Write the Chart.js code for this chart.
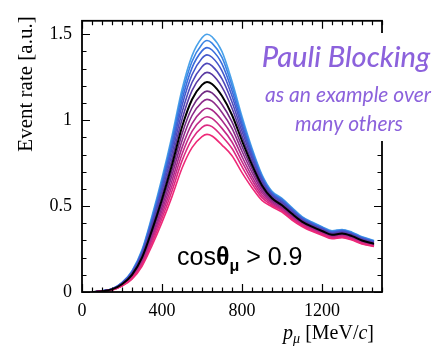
<!DOCTYPE html>
<html><head><meta charset="utf-8">
<script src="https://cdn.jsdelivr.net/npm/chart.js@4"></script>
<style>html,body{margin:0;padding:0;background:#fff;}canvas{display:block;}</style>
</head><body>
<canvas id="c" width="436" height="346"></canvas>
<script>
// muon momentum grid [MeV/c]
const pMu = [50,100,150,200,250,300,350,400,450,500,550,600,625,650,700,750,800,850,900,950,1000,1050,1100,1150,1200,1250,1300,1350,1400,1460];
// event rate curves, pink (strongest blocking) -> blue (weakest), black = central
const rate0  = [0,0.004,0.011,0.034,0.075,0.150,0.270,0.405,0.555,0.720,0.840,0.904,0.917,0.908,0.855,0.793,0.695,0.607,0.533,0.496,0.465,0.419,0.381,0.353,0.330,0.310,0.316,0.302,0.279,0.265];
const rate1  = [0,0.004,0.012,0.036,0.080,0.159,0.286,0.429,0.588,0.763,0.890,0.958,0.971,0.962,0.906,0.835,0.729,0.630,0.549,0.505,0.472,0.425,0.387,0.358,0.335,0.314,0.321,0.306,0.283,0.267];
const rate2  = [0,0.004,0.013,0.038,0.084,0.167,0.301,0.451,0.618,0.802,0.935,1.006,1.020,1.010,0.952,0.873,0.758,0.652,0.563,0.513,0.478,0.431,0.391,0.363,0.339,0.318,0.324,0.310,0.286,0.270];
const rate3  = [0,0.004,0.013,0.039,0.088,0.175,0.315,0.473,0.648,0.840,0.980,1.054,1.069,1.059,0.998,0.912,0.788,0.673,0.577,0.520,0.485,0.437,0.396,0.367,0.343,0.321,0.328,0.314,0.290,0.272];
const rate4  = [0,0.005,0.014,0.041,0.092,0.183,0.330,0.495,0.679,0.880,1.027,1.105,1.121,1.110,1.045,0.952,0.819,0.696,0.591,0.529,0.491,0.443,0.401,0.371,0.347,0.325,0.332,0.318,0.293,0.275];
const rate5  = [0,0.005,0.014,0.043,0.096,0.191,0.345,0.517,0.708,0.919,1.072,1.153,1.169,1.158,1.091,0.990,0.848,0.717,0.605,0.537,0.498,0.449,0.405,0.375,0.351,0.329,0.336,0.321,0.296,0.277];
const rate6  = [0,0.005,0.015,0.045,0.100,0.200,0.360,0.540,0.740,0.960,1.120,1.205,1.222,1.210,1.140,1.030,0.880,0.740,0.620,0.545,0.505,0.455,0.410,0.380,0.355,0.333,0.340,0.325,0.300,0.280];
const rate7  = [0,0.005,0.016,0.047,0.105,0.209,0.377,0.565,0.774,1.004,1.172,1.260,1.278,1.266,1.192,1.069,0.908,0.759,0.632,0.553,0.513,0.462,0.416,0.385,0.360,0.338,0.345,0.330,0.304,0.284];
const rate8  = [0,0.005,0.016,0.049,0.109,0.218,0.392,0.588,0.805,1.044,1.219,1.311,1.330,1.316,1.240,1.106,0.935,0.778,0.644,0.561,0.521,0.469,0.421,0.390,0.365,0.342,0.349,0.334,0.308,0.288];
const rate9  = [0,0.006,0.017,0.051,0.113,0.226,0.406,0.610,0.835,1.084,1.264,1.360,1.380,1.366,1.287,1.141,0.960,0.795,0.655,0.568,0.528,0.476,0.426,0.395,0.369,0.346,0.354,0.338,0.312,0.291];
const rate10 = [0,0.006,0.017,0.052,0.116,0.233,0.419,0.629,0.861,1.117,1.304,1.403,1.422,1.408,1.327,1.171,0.981,0.810,0.665,0.574,0.534,0.481,0.431,0.399,0.373,0.350,0.357,0.341,0.315,0.294];
const rate11 = [0,0.006,0.018,0.054,0.120,0.239,0.431,0.646,0.886,1.149,1.341,1.442,1.463,1.448,1.365,1.200,1.002,0.824,0.674,0.580,0.540,0.487,0.435,0.403,0.377,0.353,0.361,0.345,0.318,0.297];
const rate12 = [0,0.006,0.018,0.055,0.123,0.245,0.442,0.663,0.908,1.178,1.374,1.479,1.500,1.485,1.399,1.226,1.021,0.836,0.682,0.586,0.545,0.491,0.439,0.407,0.380,0.356,0.364,0.348,0.321,0.300];
const curveColors = ['#ee2a78','#dc2a82','#c42a88','#a8298a','#8c2a8a','#702a82','#000000','#5a3aa2','#4e48ba','#4458cc','#3a6cdc','#3a84e4','#4aa2ea'];
const xTickLabels = [0,400,800,1200];
const yTickLabels = [0,0.5,1,1.5];
const xRange = [0,1500];
const yRange = [0,1.578];

const series = [rate0,rate1,rate2,rate3,rate4,rate5,rate6,rate7,rate8,rate9,rate10,rate11,rate12];
const datasets = series.map((vals,i)=>({
  data: vals.map((v,j)=>({x:pMu[j],y:v})),
  borderColor: curveColors[i],
  borderWidth: i===6 ? 2 : 1.6,
  pointRadius: 0,
  cubicInterpolationMode: 'monotone',
  fill: false,
  order: i===6 ? 0 : 1
}));

const SERIF = '"Liberation Serif", "DejaVu Serif", serif';

const decor = {
  id: 'decor',
  afterDatasetsDraw(chart) {
    const ctx = chart.ctx, a = chart.chartArea;
    const xs = chart.scales.x, ys = chart.scales.y;
    ctx.save();
    ctx.strokeStyle = '#000';
    ctx.lineWidth = 1.8;
    ctx.strokeRect(a.left, a.top, a.right - a.left, a.bottom - a.top);
    ctx.lineWidth = 1.2;
    ctx.beginPath();
    for (let v = 0; v <= xRange[1]; v += 50) {
      const px = Math.round(xs.getPixelForValue(v)) + 0.5;
      const len = (v % 400 === 0) ? 8 : 4.5;
      ctx.moveTo(px, a.bottom); ctx.lineTo(px, a.bottom - len);
      ctx.moveTo(px, a.top); ctx.lineTo(px, a.top + len);
    }
    for (let k = 0; k <= 15; k++) {
      const v = k / 10;
      const py = Math.round(ys.getPixelForValue(v)) + 0.5;
      const len = (k % 5 === 0) ? 8 : 4.5;
      ctx.moveTo(a.left, py); ctx.lineTo(a.left + len, py);
      ctx.moveTo(a.right, py); ctx.lineTo(a.right - len, py);
    }
    ctx.stroke();

    // annotation box
    ctx.fillStyle = '#fff';
    ctx.fillRect(256, 33, 180, 108);
    ctx.fillStyle = '#8c62dc';
    ctx.textAlign = 'center';
    ctx.textBaseline = 'alphabetic';
    ctx.font = 'italic 500 29px Lato, "Open Sans", sans-serif';
    ctx.fillText('Pauli Blocking', 346, 67);
    ctx.font = 'italic 21px Lato, "Open Sans", sans-serif';
    ctx.fillText('as an example over', 348, 102);
    ctx.fillText('many others', 349, 131);

    // cos theta label
    ctx.fillStyle = '#000';
    ctx.textAlign = 'left';
    let x = 177; const base = 265;
    ctx.font = '25px "Liberation Sans", Arial, sans-serif';
    ctx.fillText('cos', x, base); x += ctx.measureText('cos').width;
    ctx.font = 'bold 25px "Liberation Sans", Arial, sans-serif';
    ctx.fillText('\u03B8', x, base); x += ctx.measureText('\u03B8').width;
    ctx.font = 'bold 16px "Liberation Sans", Arial, sans-serif';
    ctx.fillText('\u03BC', x, base + 6); x += ctx.measureText('\u03BC').width;
    ctx.font = '25px "Liberation Sans", Arial, sans-serif';
    ctx.fillText(' > 0.9', x, base);

    // x title
    const parts = [
      ['italic 20px ' + SERIF, 'p', 0],
      ['italic 14px ' + SERIF, '\u03BC', 4],
      ['20px ' + SERIF, ' [MeV/', 0],
      ['italic 20px ' + SERIF, 'c', 0],
      ['20px ' + SERIF, ']', 0]
    ];
    let tot = 0;
    parts.forEach(p => { ctx.font = p[0]; tot += ctx.measureText(p[1]).width; });
    x = 374 - tot;
    parts.forEach(p => { ctx.font = p[0]; ctx.fillText(p[1], x, 339 + p[2]); x += ctx.measureText(p[1]).width; });

    // y title
    ctx.save();
    ctx.translate(26, 84);
    ctx.rotate(-Math.PI / 2);
    ctx.textAlign = 'center';
    ctx.textBaseline = 'middle';
    ctx.font = '21px ' + SERIF;
    ctx.fillText('Event rate [a.u.]', 0, 0);
    ctx.restore();
    ctx.restore();
  }
};

new Chart(document.getElementById('c'), {
  type: 'line',
  data: { datasets },
  options: {
    responsive: false,
    animation: false,
    events: [],
    layout: { padding: { left: 0, right: 54, top: 8, bottom: 0 } },
    plugins: { legend: { display: false }, tooltip: { enabled: false } },
    scales: {
      x: {
        type: 'linear', min: xRange[0], max: xRange[1],
        grid: { display: false, drawTicks: false },
        border: { display: false },
        afterBuildTicks: s => { s.ticks = xTickLabels.map(v => ({ value: v })); },
        afterFit: s => { s.height = 54; },
        ticks: { color: '#000', font: { family: SERIF, size: 18 }, padding: 8, maxRotation: 0, autoSkip: false, callback: v => String(v) }
      },
      y: {
        type: 'linear', min: yRange[0], max: yRange[1],
        grid: { display: false, drawTicks: false },
        border: { display: false },
        afterBuildTicks: s => { s.ticks = yTickLabels.map(v => ({ value: v })); },
        afterFit: s => { s.width = 82; },
        ticks: { color: '#000', font: { family: SERIF, size: 18 }, padding: 10, autoSkip: false, callback: v => String(v) }
      }
    }
  },
  plugins: [decor]
});
</script>
</body></html>
